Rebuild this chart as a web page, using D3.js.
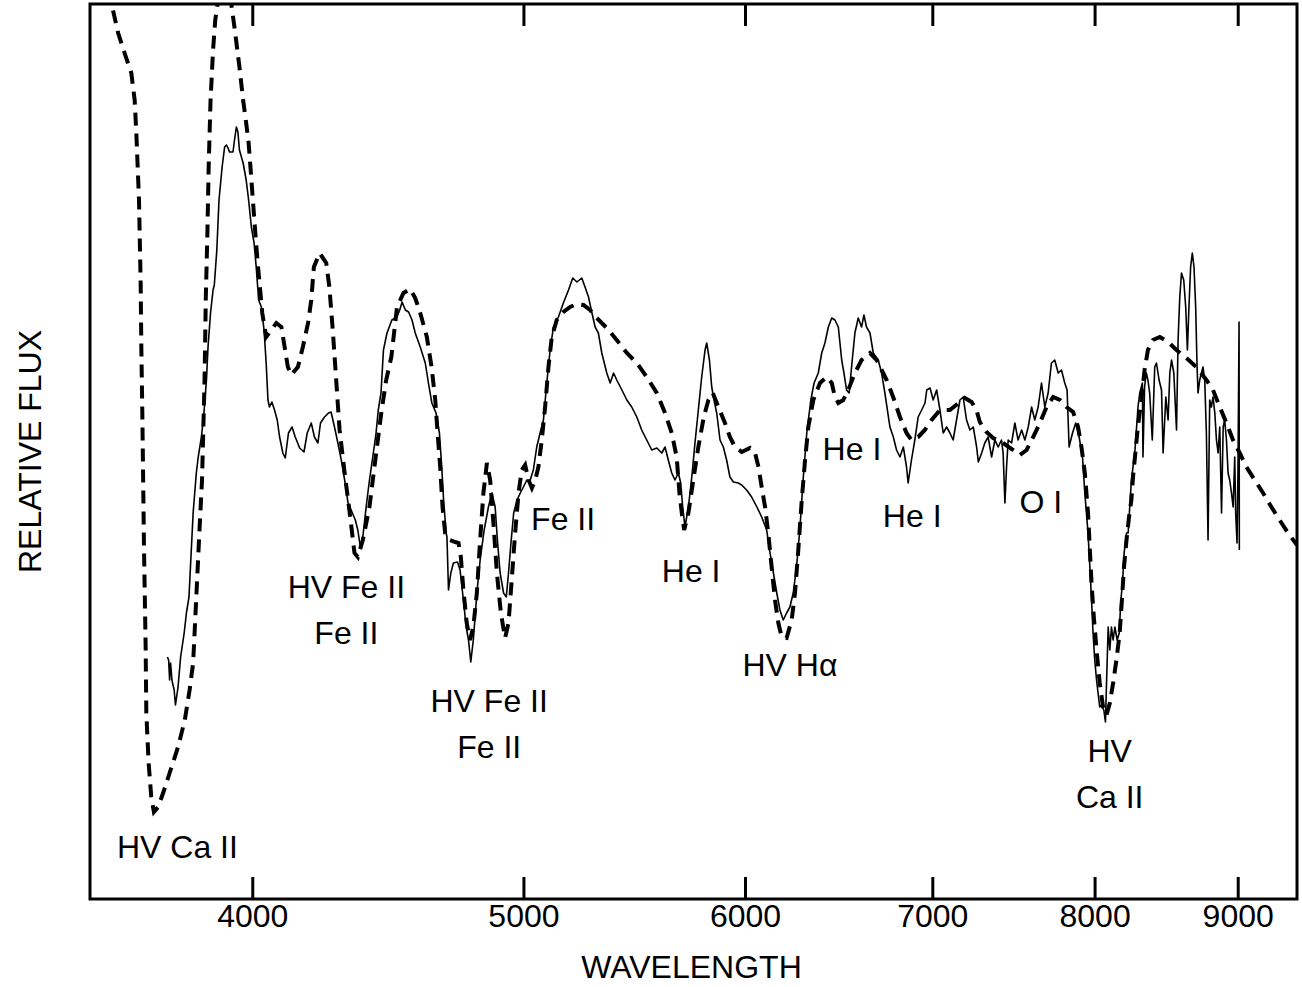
<!DOCTYPE html>
<html>
<head>
<meta charset="utf-8">
<script src="https://cdn.jsdelivr.net/npm/d3@7"></script>
<style>
  html, body { margin: 0; padding: 0; background: #fff; }
  svg text { font-family: "Liberation Sans", Arial, Helvetica, sans-serif; fill: #000; }
</style>
</head>
<body>
<svg id="chart" width="1302" height="987"></svg>
<script>
// ---- data (wavelength in Å, relative flux in arbitrary units) ----
const wavelengthTicks = [4000, 5000, 6000, 7000, 8000, 9000];

// model spectrum (dashed)
const modelWave = [3553,3562,3582,3601,3621,3631,3636,3644,3649,3651,3654,3659,3664,3666,3673,3681,3689,3702,3717,3737,3763,3784,3799,3810,3820,3830,3838,3846,3850,3855,3859,3865,3873,3880,3887,3909,3932,3943,3958,3970,3980,3988,3994,4002,4010,4019,4027,4033,4046,4063,4080,4097,4108,4119,4130,4153,4170,4188,4199,4208,4228,4251,4262,4274,4286,4298,4316,4334,4351,4363,4381,4405,4423,4448,4466,4485,4506,4530,4555,4574,4593,4618,4636,4650,4659,4669,4678,4688,4707,4727,4740,4749,4759,4772,4785,4798,4812,4825,4838,4852,4865,4878,4892,4908,4925,4939,4952,4966,4980,4993,5007,5021,5035,5049,5062,5076,5090,5104,5118,5139,5167,5196,5225,5253,5282,5311,5355,5399,5444,5489,5534,5580,5618,5649,5672,5685,5696,5707,5727,5750,5774,5800,5822,5843,5870,5902,5926,5951,5984,6025,6050,6067,6083,6100,6116,6133,6150,6167,6184,6209,6235,6252,6269,6287,6304,6321,6347,6382,6417,6444,6461,6479,6505,6532,6568,6604,6650,6687,6714,6742,6778,6816,6853,6881,6919,6957,6996,7044,7102,7161,7190,7230,7259,7279,7319,7359,7420,7482,7523,7565,7606,7648,7690,7732,7775,7817,7860,7892,7914,7936,7957,7969,7980,7995,8013,8034,8056,8079,8101,8123,8145,8167,8182,8196,8213,8230,8246,8257,8275,8290,8314,8336,8359,8394,8441,8499,8558,8628,8699,8771,8819,8868,8917,8965,9015,9065,9127,9190,9253,9316,9380,9450];
const modelFlux = [9.10,8.97,8.67,8.47,8.27,8.00,7.67,7.00,6.17,5.53,4.87,3.53,2.53,1.87,1.37,1.03,0.88,0.93,1.07,1.27,1.53,1.80,2.10,2.37,3.03,3.70,4.20,5.20,6.03,6.67,7.33,8.00,8.50,8.80,8.95,9.30,8.95,8.70,8.33,8.00,7.77,7.57,7.33,7.00,6.67,6.33,6.07,5.87,5.63,5.70,5.77,5.73,5.53,5.33,5.25,5.33,5.53,5.77,6.00,6.33,6.47,6.37,6.13,5.70,5.20,4.70,4.27,3.87,3.47,3.43,3.60,3.93,4.33,4.87,5.20,5.43,5.93,6.07,6.11,6.02,5.87,5.63,5.33,5.00,4.67,4.33,3.93,3.67,3.60,3.58,3.57,3.43,3.10,2.77,2.60,2.73,3.07,3.60,4.07,4.37,4.20,3.77,3.27,2.87,2.62,2.77,3.20,3.67,4.07,4.30,4.35,4.20,4.12,4.20,4.33,4.60,4.93,5.33,5.63,5.80,5.88,5.93,5.96,5.95,5.90,5.82,5.72,5.60,5.47,5.37,5.23,5.07,4.87,4.67,4.43,4.07,3.87,3.70,3.87,4.20,4.53,4.83,5.00,5.07,4.93,4.77,4.63,4.53,4.48,4.52,4.47,4.33,4.13,3.93,3.67,3.33,3.00,2.77,2.63,2.62,2.80,3.07,3.50,4.00,4.40,4.73,5.00,5.17,5.23,5.17,5.03,4.97,5.00,5.10,5.27,5.40,5.47,5.40,5.30,5.20,5.03,4.83,4.67,4.60,4.63,4.70,4.80,4.90,4.90,4.98,5.02,4.98,4.90,4.78,4.68,4.62,4.57,4.50,4.45,4.50,4.63,4.77,4.93,5.03,5.00,4.93,4.88,4.73,4.53,4.27,3.87,3.50,3.17,2.83,2.50,2.17,1.93,1.85,1.97,2.17,2.40,2.67,3.00,3.33,3.60,3.83,4.00,4.23,4.50,4.73,5.00,5.30,5.50,5.60,5.63,5.58,5.50,5.42,5.33,5.20,5.10,4.93,4.77,4.60,4.47,4.33,4.20,4.07,3.93,3.80,3.67,3.55];

// observed spectrum (solid)
const obsWave = [3730,3734,3737,3740,3744,3751,3755,3763,3771,3782,3789,3797,3810,3820,3826,3836,3844,3852,3857,3865,3873,3877,3885,3892,3902,3910,3916,3921,3926,3937,3942,3948,3953,3958,3970,3980,3988,3997,4006,4013,4021,4030,4039,4046,4052,4057,4065,4074,4083,4091,4102,4110,4121,4133,4144,4159,4174,4185,4199,4210,4222,4231,4245,4259,4268,4280,4292,4304,4316,4328,4339,4354,4363,4372,4381,4393,4405,4417,4429,4437,4447,4456,4469,4487,4506,4516,4525,4537,4549,4562,4574,4593,4612,4624,4637,4653,4666,4675,4682,4692,4695,4701,4710,4720,4736,4746,4759,4770,4779,4788,4798,4812,4825,4841,4858,4872,4885,4894,4905,4919,4930,4939,4950,4960,4974,4987,5000,5014,5028,5041,5055,5069,5083,5097,5111,5125,5146,5167,5189,5207,5225,5246,5260,5275,5290,5304,5318,5333,5355,5370,5385,5399,5422,5444,5466,5489,5511,5534,5557,5580,5603,5618,5633,5649,5664,5680,5691,5700,5711,5727,5743,5758,5774,5790,5806,5814,5827,5838,5849,5862,5878,5894,5910,5926,5943,5967,5984,6008,6033,6059,6083,6108,6125,6142,6159,6175,6192,6209,6226,6243,6260,6278,6295,6313,6334,6351,6373,6391,6408,6426,6444,6461,6479,6497,6509,6523,6537,6550,6568,6586,6604,6617,6631,6650,6668,6695,6714,6732,6760,6779,6797,6816,6835,6853,6862,6881,6900,6919,6939,6958,6968,6987,7005,7025,7044,7063,7083,7102,7121,7141,7161,7180,7200,7220,7240,7260,7270,7290,7309,7329,7350,7370,7390,7410,7420,7431,7441,7451,7472,7492,7512,7534,7554,7575,7596,7616,7637,7658,7679,7700,7721,7742,7764,7785,7806,7821,7834,7856,7877,7899,7921,7936,7957,7969,7980,7990,8001,8013,8023,8034,8045,8061,8072,8079,8090,8101,8112,8123,8135,8150,8164,8175,8186,8197,8213,8224,8246,8269,8291,8303,8321,8325,8336,8348,8359,8371,8389,8406,8418,8436,8453,8464,8483,8499,8511,8523,8539,8558,8569,8581,8593,8609,8623,8635,8646,8658,8670,8682,8694,8704,8711,8723,8735,8747,8759,8771,8783,8795,8807,8819,8832,8844,8856,8868,8881,8893,8904,8917,8929,8941,8954,8966,8978,8985,8995,9002,9010,9012];
const obsFlux = [2.43,2.40,2.20,2.37,2.20,2.10,1.95,2.13,2.43,2.67,2.87,3.03,3.87,4.27,4.43,4.63,4.87,5.20,5.53,5.87,6.10,6.15,6.50,7.00,7.33,7.53,7.55,7.52,7.48,7.48,7.60,7.73,7.68,7.50,7.37,7.20,7.00,6.73,6.57,6.33,6.00,5.93,5.70,5.37,5.00,4.93,4.98,4.90,4.80,4.63,4.47,4.42,4.67,4.73,4.63,4.52,4.48,4.67,4.77,4.63,4.57,4.77,4.83,4.87,4.88,4.73,4.57,4.40,4.20,3.97,3.90,3.80,3.70,3.53,3.63,3.93,4.20,4.43,4.67,4.90,5.07,5.50,5.67,5.80,5.83,5.90,5.98,5.90,5.88,5.80,5.67,5.53,5.37,5.17,4.97,4.87,4.67,4.33,4.00,3.67,3.63,3.10,3.27,3.37,3.38,3.30,3.00,2.73,2.60,2.38,2.60,3.07,3.40,3.70,3.93,4.07,3.93,3.60,3.27,3.07,3.03,3.27,3.60,3.87,4.00,4.07,4.13,4.20,4.20,4.30,4.53,4.67,4.80,5.17,5.50,5.73,5.83,5.97,6.10,6.22,6.18,6.22,6.13,6.03,5.87,5.73,5.67,5.47,5.27,5.17,5.27,5.20,5.10,5.00,4.93,4.83,4.70,4.60,4.50,4.52,4.47,4.53,4.40,4.27,4.20,4.27,4.17,3.93,3.73,3.93,4.23,4.57,4.90,5.23,5.50,5.57,5.40,5.13,5.00,4.87,4.60,4.53,4.40,4.23,4.18,4.17,4.15,4.10,4.03,3.93,3.83,3.70,3.47,3.27,3.07,2.90,2.80,2.87,2.93,3.07,3.33,3.73,4.23,4.67,5.00,5.17,5.27,5.47,5.57,5.73,5.82,5.80,5.73,5.40,5.27,5.10,5.07,5.33,5.67,5.82,5.73,5.85,5.73,5.67,5.47,5.40,5.27,5.07,4.73,4.63,4.50,4.43,4.53,4.33,4.17,4.40,4.60,4.83,4.90,4.97,5.10,5.12,5.00,5.10,4.90,4.67,4.73,4.67,4.60,4.80,5.00,5.03,4.80,4.70,4.73,4.53,4.38,4.47,4.57,4.63,4.43,4.60,4.53,4.60,4.47,3.97,4.33,4.60,4.57,4.77,4.60,4.70,4.60,4.73,4.93,4.80,4.93,5.17,4.93,5.07,5.37,5.40,5.27,5.30,5.17,5.10,4.53,4.67,4.77,4.63,4.43,4.07,3.67,3.33,3.00,2.67,2.40,2.20,2.07,1.93,1.95,1.90,1.78,2.17,2.73,2.50,2.73,2.60,2.73,2.60,2.67,3.00,3.17,3.47,3.67,3.67,4.20,4.47,4.93,5.07,5.17,4.43,5.13,5.27,5.20,5.07,4.60,5.33,5.37,5.20,5.10,4.47,5.03,4.80,5.27,5.40,5.27,4.70,5.60,6.03,6.27,6.20,5.93,5.50,5.93,6.33,6.47,6.33,5.93,5.33,5.07,5.20,5.27,5.33,5.20,4.67,3.60,5.00,4.93,5.03,4.87,4.60,4.47,4.73,3.87,4.73,4.80,4.60,4.27,4.20,4.07,3.93,4.43,3.87,3.57,4.30,5.78,3.50];

// line identifications
const labelLines = [["HV Ca II"], ["HV Fe II", "Fe II"], ["HV Fe II", "Fe II"], ["Fe II"], ["He I"], ["HV H\u03B1"], ["He I"], ["He I"], ["O I"], ["HV", "Ca II"]];
const labelWave  = [3761, 4322, 4861, 5166, 5740, 6226, 6552, 6885, 7654, 8100];
const labelFlux  = [0.42, 3.02, 1.88, 3.70, 3.18, 2.24, 4.40, 3.73, 3.87, 1.38];

// ---- layout ----
const svg = d3.select("#chart");
const mLeft = 90, mRight = 1297, mTop = 4, mBottom = 899;
const fontSize = 32;

const x = d3.scaleLog().domain([3500, 9450]).range([mLeft, mRight]);
const y = d3.scaleLinear().domain([0, 8.96]).range([900, 4]);

svg.append("defs").append("clipPath").attr("id", "plotclip")
  .append("rect").attr("x", mLeft).attr("y", mTop).attr("width", mRight - mLeft).attr("height", mBottom - mTop);

const plot = svg.append("g").attr("clip-path", "url(#plotclip)");

const line = d3.line().x(d => x(d[0])).y(d => y(d[1]));

plot.append("path")
  .datum(obsWave.map((w, i) => [w, obsFlux[i]]))
  .attr("d", line)
  .attr("fill", "none").attr("stroke", "#000").attr("stroke-width", 1.6)
  .attr("stroke-linejoin", "round");

plot.append("path")
  .datum(modelWave.map((w, i) => [w, modelFlux[i]]))
  .attr("d", line)
  .attr("fill", "none").attr("stroke", "#000").attr("stroke-width", 4)
  .attr("stroke-dasharray", "13,8");

// axes
const xBottom = d3.axisBottom(x).tickValues(wavelengthTicks).tickFormat(d3.format("d"))
  .tickSizeInner(-22).tickSizeOuter(0).tickPadding(5);
const gb = svg.append("g").attr("transform", `translate(0,${mBottom})`).call(xBottom);
gb.select(".domain").remove();
gb.selectAll(".tick line").attr("stroke", "#000").attr("stroke-width", 3);
gb.selectAll(".tick text").attr("font-size", fontSize).attr("fill", "#000")
  .attr("font-family", "Liberation Sans, Arial, sans-serif");

const xTop = d3.axisTop(x).tickValues(wavelengthTicks).tickFormat("")
  .tickSizeInner(-22).tickSizeOuter(0);
const gt = svg.append("g").attr("transform", `translate(0,${mTop})`).call(xTop);
gt.select(".domain").remove();
gt.selectAll(".tick line").attr("stroke", "#000").attr("stroke-width", 3);

// frame
svg.append("rect").attr("x", mLeft).attr("y", mTop).attr("width", mRight - mLeft).attr("height", mBottom - mTop)
  .attr("fill", "none").attr("stroke", "#000").attr("stroke-width", 3);

// axis titles
svg.append("text").attr("x", (mLeft + mRight) / 2 - 2).attr("y", 978)
  .attr("text-anchor", "middle").attr("font-size", fontSize).text("WAVELENGTH");
svg.append("text").attr("transform", `translate(41,${(mTop + mBottom) / 2}) rotate(-90)`)
  .attr("text-anchor", "middle").attr("font-size", fontSize).text("RELATIVE FLUX");

// line labels
labelLines.forEach((lines, i) => {
  const t = svg.append("text").attr("text-anchor", "middle").attr("font-size", fontSize)
    .attr("x", x(labelWave[i])).attr("y", y(labelFlux[i]));
  lines.forEach((s, j) => {
    t.append("tspan").attr("x", x(labelWave[i])).attr("dy", j === 0 ? 0 : 46).text(s);
  });
});
</script>
</body>
</html>
